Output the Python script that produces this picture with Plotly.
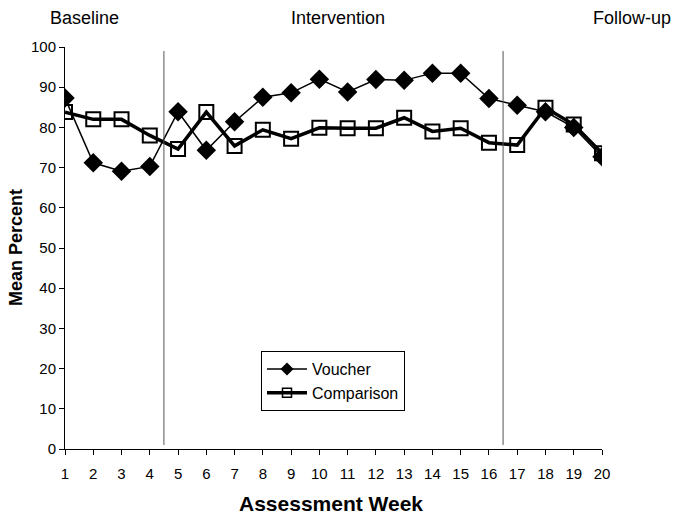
import plotly.graph_objects as go

weeks = list(range(1, 21))
voucher = [87.3, 71.2, 69.1, 70.3, 83.9, 74.3, 81.4, 87.5, 88.6, 92.0,
           88.8, 91.9, 91.7, 93.5, 93.5, 87.2, 85.5, 83.9, 80.0, 72.7]
comparison = [83.8, 82.0, 82.0, 78.0, 74.6, 83.8, 75.4, 79.4, 77.2, 79.9,
              79.8, 79.8, 82.4, 79.0, 79.8, 76.2, 75.6, 84.9, 80.7, 73.6]
phase_breaks = [4.5, 16.5]
phase_labels = ["Baseline", "Intervention", "Follow-up"]
y_ticks = list(range(0, 101, 10))

W, H = 674, 520
L, R, T, B = 65, 72, 47, 71
pw, ph = W - L - R, H - T - B


def px(x):
    return (x - L) / pw


def py(y):
    return (H - B - y) / ph


fig = go.Figure()
fig.add_trace(go.Scatter(
    x=weeks, y=comparison, name="Comparison", mode="lines+markers",
    line=dict(color="black", width=3.5),
    marker=dict(symbol="square-open", size=14, color="black", line=dict(width=2, color="black")),
    showlegend=False,
))
fig.add_trace(go.Scatter(
    x=weeks, y=voucher, name="Voucher", mode="lines+markers",
    line=dict(color="black", width=1.5),
    marker=dict(symbol="diamond", size=15, color="black"),
    showlegend=False,
))
# legend-only entries (smaller legend symbols, as in the reference)
fig.add_trace(go.Scatter(
    x=[None], y=[None], name="Voucher", mode="lines+markers",
    line=dict(color="black", width=1.5),
    marker=dict(symbol="diamond", size=10, color="black"),
    legendrank=1,
))
fig.add_trace(go.Scatter(
    x=[None], y=[None], name="Comparison", mode="lines+markers",
    line=dict(color="black", width=3.5),
    marker=dict(symbol="square-open", size=9, color="black", line=dict(width=1.5, color="black")),
    legendrank=2,
))

for b in phase_breaks:
    fig.add_shape(type="line", x0=b, x1=b, y0=1, y1=99, xref="x", yref="y",
                  line=dict(color="#555555", width=1))

for lab, xp in zip(phase_labels, [84, 338, 632]):
    fig.add_annotation(text=lab, x=px(xp), y=py(18), xref="paper", yref="paper",
                       xanchor="center", yanchor="middle",
                       showarrow=False, font=dict(size=18, color="black"))

fig.add_annotation(text="<b>Assessment Week</b>", x=px(331), y=py(503), xref="paper", yref="paper",
                   xanchor="center", yanchor="middle", showarrow=False,
                   font=dict(size=21, color="black"))
fig.add_annotation(text="<b>Mean Percent</b>", x=px(16), y=py(248), xref="paper", yref="paper",
                   xanchor="center", yanchor="middle", showarrow=False, textangle=-90,
                   font=dict(size=18, color="black"))

fig.update_layout(
    width=W, height=H,
    margin=dict(l=L, r=R, t=T, b=B, autoexpand=False),
    paper_bgcolor="white", plot_bgcolor="white",
    font=dict(family="Liberation Sans, Arial, sans-serif", color="black"),
    showlegend=True,
    legend=dict(x=px(261), y=py(351), xanchor="left", yanchor="top",
                bordercolor="black", borderwidth=1, bgcolor="white",
                font=dict(size=16), tracegroupgap=0, itemwidth=40),
    xaxis=dict(range=[1, 20], tickvals=weeks, showgrid=False, zeroline=False,
               showline=True, linecolor="black", linewidth=1,
               ticks="outside", ticklen=5, tickcolor="black",
               tickfont=dict(size=15), ticklabelstandoff=6, automargin=False),
    yaxis=dict(range=[0, 100], tickvals=y_ticks, showgrid=False, zeroline=False,
               showline=True, linecolor="black", linewidth=1,
               ticks="outside", ticklen=5, tickcolor="black",
               tickfont=dict(size=15), automargin=False),
)

fig.write_html("out.html",
               config={"displayModeBar": False},
               post_script="document.body.style.margin='0';document.body.style.overflow='hidden';")
